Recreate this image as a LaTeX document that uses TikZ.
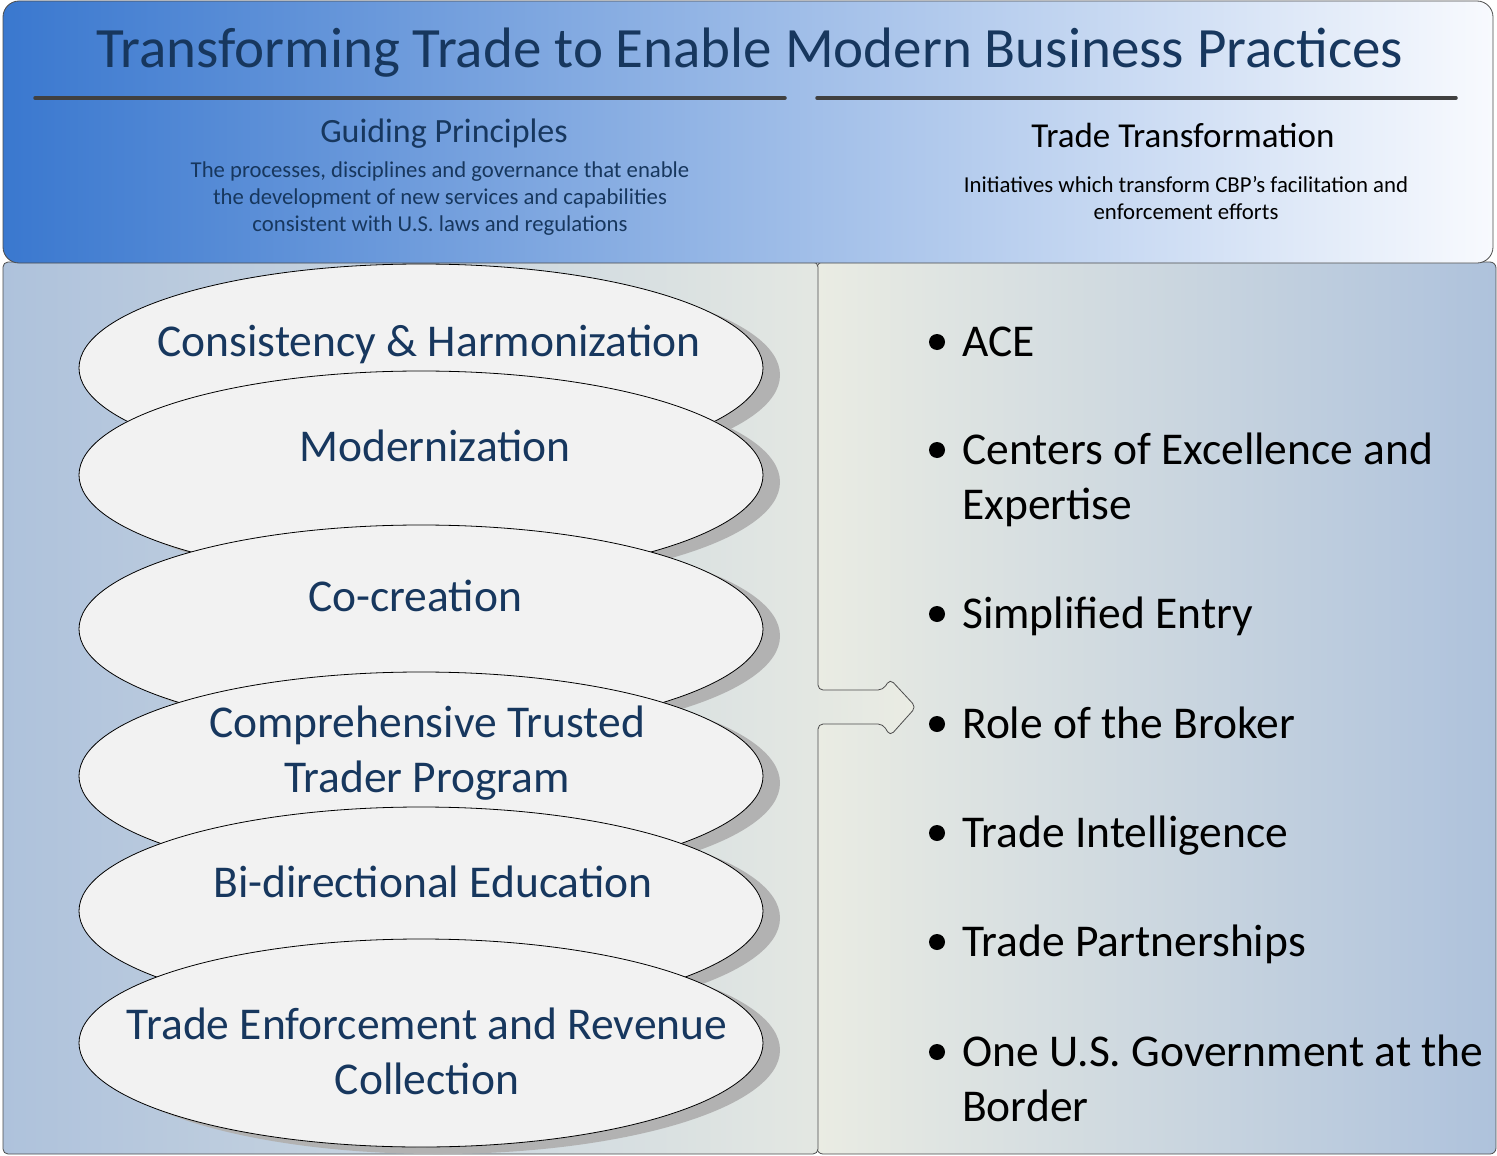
\documentclass[tikz,border=0pt]{standalone}
\usepackage{fontspec}
\setmainfont{Carlito}
\usetikzlibrary{shapes.geometric,shadows}

\definecolor{navy}{HTML}{17375E}
\definecolor{headblue}{RGB}{58,120,207}
\definecolor{headmid}{RGB}{158,189,232}
\definecolor{headwhite}{RGB}{248,250,254}
\definecolor{panelblue}{RGB}{174,194,220}
\definecolor{panelmid}{RGB}{234,236,227}
\definecolor{ellfill}{RGB}{242,242,242}
\definecolor{shadowgray}{RGB}{178,178,178}

\begin{document}
\begin{tikzpicture}[x=1pt,y=-1pt,
	panel/.style={draw=black!70, line width=0.8pt},
	rule/.style={draw=black!75, line width=3.5pt, line cap=round},
	principle/.style={ellipse, draw=black, line width=0.8pt, fill=ellfill, inner sep=0pt,
		minimum width=684pt, minimum height=208pt,
		drop shadow={shadow xshift=17pt, shadow yshift=-7pt, fill=shadowgray, opacity=1}},
	ptext/.style={anchor=base, align=center, inner sep=0pt, text=navy, font=\fontsize{45.5}{55}\selectfont},
	bullet/.style={circle, fill=black, inner sep=0pt, minimum size=16pt},
	initiative/.style={anchor=base west, align=left, inner sep=0pt, font=\fontsize{45.5}{55}\selectfont}]
	\useasboundingbox (0,0) rectangle (1497,1156);
	
	% panels
	\draw[panel, left color=panelmid, right color=panelblue, rounded corners=6pt] (817,262) rectangle (1496,1154);
	\draw[panel, left color=panelblue, right color=panelmid, rounded corners=5pt]
		(3,262) -- (818,262) -- (818,690) -- (883,690) -- (890,679) -- (916,707)
		-- (890,736) -- (883,724) -- (818,724) -- (818,1154) -- (3,1154) -- cycle;
	
	% header
	\draw[panel, left color=headblue, middle color=headmid, right color=headwhite, rounded corners=16pt]
		(3,1) rectangle (1493,263);
	\node[anchor=base, inner sep=0pt, text=navy, font=\fontsize{57}{60}\selectfont] (title) at (750,68)
		{Transforming Trade to Enable Modern Business Practices};
	\draw[rule] (35,98) -- (785,98);
	\draw[rule] (817,98) -- (1456,98);
	
	\node[anchor=base, inner sep=0pt, text=navy, font=\fontsize{34}{36}\selectfont] (guiding) at (444,142) {Guiding Principles};
	\node[anchor=base, align=center, inner sep=0pt, text=navy, font=\fontsize{22.7}{27}\selectfont] (guidingsub) at (440,231)
		{The processes, disciplines and governance that enable\\
		 the development of new services and capabilities\\
		 consistent with U.S. laws and regulations};
	\node[anchor=base, inner sep=0pt, font=\fontsize{35}{36}\selectfont] (transform) at (1183,147) {Trade Transformation};
	\node[anchor=base, align=center, inner sep=0pt, font=\fontsize{22.8}{27}\selectfont] (transformsub) at (1186,219)
		{Initiatives which transform CBP’s facilitation and\\ enforcement efforts};
	
	% guiding principles
	\node[principle] (consistency) at (421,368) {};
	\node[ptext] (consistencytext) at (429,356) {Consistency \& Harmonization};
	\node[principle] (modern) at (421,475) {};
	\node[ptext] (moderntext) at (435,461) {Modernization};
	\node[principle] (cocreation) at (421,629) {};
	\node[ptext] (cocreationtext) at (415,611) {Co-creation};
	\node[principle] (trusted) at (421,776) {};
	\node[ptext] (trustedtext) at (427,792) {Comprehensive Trusted\\Trader Program};
	\node[principle] (education) at (421,911) {};
	\node[ptext] (educationtext) at (433,897) {Bi-directional Education};
	\node[principle] (enforcement) at (421,1043) {};
	\node[ptext] (enforcementtext) at (427,1094) {Trade Enforcement and Revenue\\Collection};
	
	% initiatives
	\node[bullet] (b1) at (937,342) {};
	\node[initiative] (ace) at (962,356) {ACE};
	\node[bullet] (b2) at (937,450) {};
	\node[initiative] (centers) at (962,519) {Centers of Excellence and\\Expertise};
	\node[bullet] (b3) at (937,614) {};
	\node[initiative] (entry) at (962,628) {Simplified Entry};
	\node[bullet] (b4) at (937,724) {};
	\node[initiative] (broker) at (962,738) {Role of the Broker};
	\node[bullet] (b5) at (937,833) {};
	\node[initiative] (intel) at (962,847) {Trade Intelligence};
	\node[bullet] (b6) at (937,942) {};
	\node[initiative] (partner) at (962,956) {Trade Partnerships};
	\node[bullet] (b7) at (937,1052) {};
	\node[initiative] (border) at (962,1121) {One U.S. Government at the\\Border};
\end{tikzpicture}
\end{document}
